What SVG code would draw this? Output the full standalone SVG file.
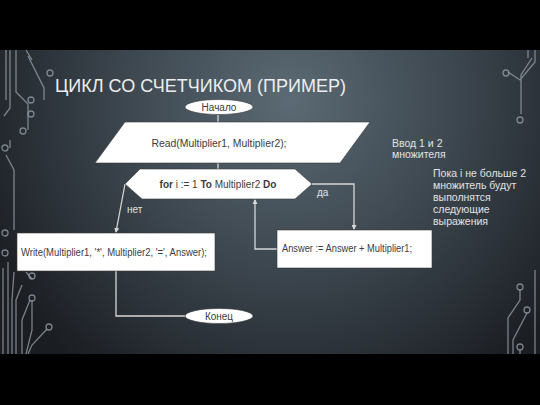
<svg xmlns="http://www.w3.org/2000/svg" width="540" height="405" viewBox="0 0 540 405">
<defs>
<radialGradient id="bg" cx="290" cy="100" r="340" gradientUnits="userSpaceOnUse">
<stop offset="0" stop-color="#5b6a74"/>
<stop offset="0.5" stop-color="#3c464e"/>
<stop offset="1" stop-color="#1a1d22"/>
</radialGradient>
<marker id="arr" markerWidth="5" markerHeight="5" refX="4" refY="2.5" orient="auto" markerUnits="userSpaceOnUse">
<path d="M0,0 L5,2.5 L0,5 z" fill="#d8d8d8"/>
</marker>
<style>
.deco{fill:none;stroke:#9aa3aa;stroke-width:1.3;opacity:0.75}
.conn{fill:none;stroke:#d6d6d6;stroke-width:1.3}
.node{fill:#ffffff;stroke:#3a3a3a;stroke-width:0.6}
.nt{font-family:"Liberation Sans",Arial,sans-serif;font-size:10px;fill:#3c3c3c}
.side{font-family:"Liberation Sans",Arial,sans-serif;font-size:10.5px;fill:#e2e2e2}
.lab{font-family:"Liberation Sans",Arial,sans-serif;font-size:10px;fill:#e2e2e2}
</style>
</defs>
<rect x="0" y="0" width="540" height="405" fill="#000"/>
<rect x="0" y="50" width="540" height="304" fill="url(#bg)"/>
<g id="decor">
<path class="deco" d="M6,50 V100 M10,50 V108 L4,116 M16,50 V92 L28,104 V130 M26,50 L32,60 M28,56 L44,88 V100 M6,155 L14,170 V230 M10,140 V148"/>
<circle class="deco" cx="50" cy="73" r="3"/>
<circle class="deco" cx="31" cy="100" r="3"/>
<circle class="deco" cx="31" cy="114" r="3"/>
<circle class="deco" cx="23" cy="131" r="3"/>
<circle class="deco" cx="5" cy="148" r="3"/>
<circle class="deco" cx="5" cy="233" r="3"/>
<circle class="deco" cx="5" cy="253" r="3"/>
<circle class="deco" cx="32" cy="276" r="3"/>
<circle class="deco" cx="32" cy="298" r="3"/>
<circle class="deco" cx="49" cy="327" r="3"/>
<path class="deco" d="M3,268 V354 M8,262 V354 M14,272 L12,300 V354 M22,285 L16,300 V354 M26,272 L32,279 M30,300 L22,320 V354 M32,301 L32,330 L26,354 M47,329 L32,345 L28,354"/>
<path class="deco" d="M535,50 V62 L520,80 L508,72 M532,58 L521,75 V114 M528,50 L528,58"/>
<circle class="deco" cx="506" cy="73" r="3"/>
<circle class="deco" cx="520" cy="120" r="3"/>
<path class="deco" d="M520,290 V300 L508,318 V354 M527,313 L513,340 V354 M520,350 V354 M535,270 V354"/>
<circle class="deco" cx="520" cy="287" r="3"/>
<circle class="deco" cx="527" cy="310" r="3"/>
<circle class="deco" cx="520" cy="347" r="3"/>
</g>
<text x="55" y="92" font-family="'Liberation Sans',Arial,sans-serif" font-size="19" fill="#eeeeee" textLength="291" lengthAdjust="spacingAndGlyphs">ЦИКЛ СО СЧЕТЧИКОМ (ПРИМЕР)</text>
<g id="connectors">
<line class="conn" x1="218" y1="115" x2="218" y2="122"/>
<line class="conn" x1="218" y1="163" x2="218" y2="169"/>
<polyline class="conn" points="312,184 354,184 354,229" marker-end="url(#arr)"/>
<polyline class="conn" points="277,249 255,249 255,200" marker-end="url(#arr)"/>
<line class="conn" x1="125" y1="184" x2="116" y2="232" marker-end="url(#arr)"/>
<polyline class="conn" points="116,271 116,316 185,316"/>
<text class="lab" x="317" y="196">да</text>
<text class="lab" x="127" y="213">нет</text>
</g>
<g id="start">
<ellipse class="node" cx="219" cy="107" rx="34" ry="7.5"/>
<text class="nt" x="219" y="111" text-anchor="middle">Начало</text>
</g>
<g id="read">
<polygon class="node" points="125,122 370,122 340,163 95,163"/>
<text class="nt" x="219" y="147" text-anchor="middle" textLength="135" lengthAdjust="spacingAndGlyphs">Read(Multiplier1, Multiplier2);</text>
</g>
<g id="loop">
<polygon class="node" points="125,184 140,169 295,169 312,184 295,199 142,199"/>
<text class="nt" x="218" y="187.5" text-anchor="middle" font-size="8.7"><tspan font-weight="bold">for</tspan> i := 1 <tspan font-weight="bold">To</tspan> Multiplier2 <tspan font-weight="bold">Do</tspan></text>
</g>
<g id="answer">
<rect class="node" x="277" y="230" width="155" height="38"/>
<text class="nt" x="282" y="252" font-size="9.5" textLength="130" lengthAdjust="spacingAndGlyphs">Answer := Answer + Multiplier1;</text>
</g>
<g id="write">
<rect class="node" x="17" y="233" width="198" height="38"/>
<text class="nt" x="21" y="256" font-size="9.5" textLength="186" lengthAdjust="spacingAndGlyphs">Write(Multiplier1, '*', Multiplier2, '=', Answer);</text>
</g>
<g id="end">
<ellipse class="node" cx="219" cy="316" rx="34" ry="7.5"/>
<text class="nt" x="219" y="320" text-anchor="middle">Конец</text>
</g>
<g id="notes">
<text class="side" x="392" y="147">Ввод 1 и 2</text>
<text class="side" x="392" y="158">множителя</text>
<text class="side" x="433" y="177">Пока i не больше 2</text>
<text class="side" x="433" y="189">множитель будут</text>
<text class="side" x="433" y="201">выполнятся</text>
<text class="side" x="433" y="213">следующие</text>
<text class="side" x="433" y="225">выражения</text>
</g>
</svg>
